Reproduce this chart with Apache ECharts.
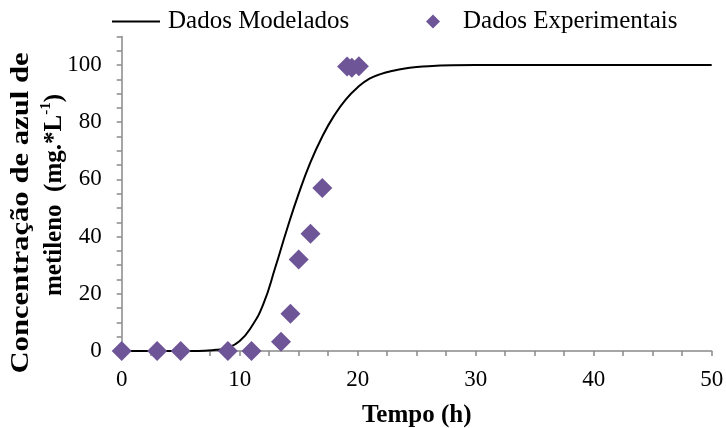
<!DOCTYPE html>
<html>
<head>
<meta charset="utf-8">
<script src="https://cdn.jsdelivr.net/npm/echarts@6/dist/echarts.min.js"></script>
<style>html,body{margin:0;padding:0;background:#fff}#c{width:726px;height:428px}</style>
</head>
<body>
<div id="c"></div>
<script>
// Modelled curve
var modelT = [0,2,4,6,7,8,9,10,11,12,13,14,15,16,17,18,19,20,21,22,23,24,25,26,28,30,35,40,45,50];
var modelY = [0,0,0,0,0.1,0.4,1.2,3.5,8.5,16.4,29,42.5,55,66,75,82.3,88,92.2,95.2,96.9,98,98.8,99.3,99.6,99.9,100,100,100,100,100];
// Experimental points
var expT = [0,3,5,9,11,13.5,14.3,15,16,17,19.1,19.5,20.1];
var expY = [0,0,0,0,0,3.2,13,32,41,57,99.5,99,99.6];
var seriesNames = ['Dados Modelados','Dados Experimentais'];
var xTitle = 'Tempo (h)';
var yTitle1 = 'Concentração de azul de';
var yTitle2 = 'metileno  (mg.*L';

var FONT = "'Liberation Serif','Times New Roman',serif";
var AX = '#898989';
var PURPLE = '#6E5597';

var chart = echarts.init(document.getElementById('c'), null, {renderer:'canvas'});
chart.setOption({
  animation:false,
  textStyle:{fontFamily:FONT},
  grid:{left:121.7, right:14.3, top:36.4, bottom:77, outerBoundsMode:'none', containLabel:false},
  legend:[
    {data:[{name:seriesNames[0], icon:'rect', itemStyle:{color:'#000'}}], left:107, top:4, itemWidth:48, itemHeight:2,
     textStyle:{fontFamily:FONT, fontSize:25, color:'#000', padding:[0,0,0,3]}},
    {data:[{name:seriesNames[1], icon:'diamond'}], left:421, top:4, itemWidth:14, itemHeight:14,
     textStyle:{fontFamily:FONT, fontSize:25, color:'#000', padding:[0,0,0,18]}}
  ],
  xAxis:{type:'value', min:0, max:50, interval:2.5,
    name:xTitle, nameLocation:'middle', nameGap:52,
    nameTextStyle:{fontFamily:FONT, fontSize:25, fontWeight:'bold', color:'#000'},
    axisLine:{show:true, lineStyle:{color:AX, width:1.5}},
    axisTick:{show:true, length:5, lineStyle:{color:AX, width:1.5}},
    splitLine:{show:false},
    axisLabel:{fontFamily:FONT, fontSize:23, color:'#000', margin:17,
      formatter:function(v){return v%10===0 ? String(v) : '';}}
  },
  yAxis:{type:'value', min:0, max:110, interval:5,
    axisLine:{show:true, lineStyle:{color:AX, width:1.5}},
    axisTick:{show:true, length:5, lineStyle:{color:AX, width:1.5}},
    splitLine:{show:false},
    axisLabel:{fontFamily:FONT, fontSize:23, color:'#000', margin:20,
      formatter:function(v){return (v%20===0 && v<=100) ? String(v) : '';}}
  },
  graphic:[
    {type:'text', x:21.5, y:213, rotation:Math.PI/2, scaleX:1.18,
     style:{text:yTitle1, font:'bold 26px '+FONT, fill:'#000', align:'center', verticalAlign:'middle'}},
    {type:'text', x:53, y:195, rotation:Math.PI/2,
     style:{text:'{a|'+yTitle2+'}{s|-1}{a|)}', align:'center', verticalAlign:'middle',
       rich:{a:{font:'bold 25px '+FONT, fill:'#000', lineHeight:28, verticalAlign:'bottom'},
             s:{font:'bold 15px '+FONT, fill:'#000', lineHeight:28, verticalAlign:'top'}}}}
  ],
  series:[
    {name:seriesNames[0], type:'line', data:modelT.map(function(t,i){return [t, modelY[i]];}),
     showSymbol:false, symbol:'none', smooth:0.5,
     lineStyle:{color:'#000', width:2}, itemStyle:{color:'#000'}, z:2},
    {name:seriesNames[1], type:'scatter', data:expT.map(function(t,i){return [t, expY[i]];}),
     symbol:'diamond', symbolSize:20, itemStyle:{color:PURPLE, opacity:1}, z:3}
  ]
});
</script>
</body>
</html>
